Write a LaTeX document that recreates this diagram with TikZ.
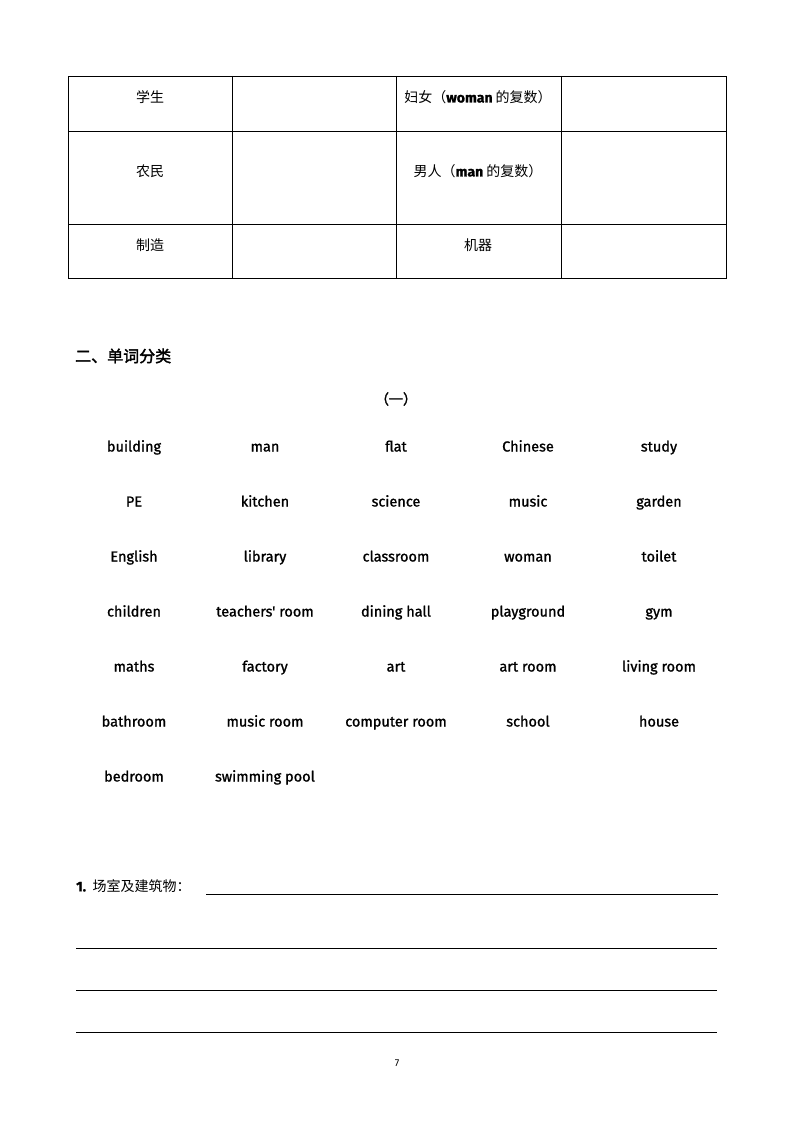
\documentclass[tikz,border=0pt]{standalone}
\usepackage{fontspec}
\setmainfont{Fira Sans}
\newfontfamily\cjk{Noto Sans CJK SC}
\newfontfamily\cjkb{Noto Sans CJK SC}[FakeBold=2]
\newfontfamily\wordfont{Fira Sans}[FakeBold=1.2]
\begin{document}
\begin{tikzpicture}[x=1pt,y=-1pt,
  cell/.style={font=\cjk\fontsize{14}{16}\selectfont, inner sep=0pt, text height=12pt, text depth=1pt},
  word/.style={font=\wordfont\fontsize{14.5}{16}\selectfont, inner sep=0pt, text height=12.5pt, text depth=1.5pt},
  grid/.style={line width=0.9pt},
  rule/.style={line width=0.8pt}]
\useasboundingbox (0,0) rectangle (794,1123);
% table
\draw[grid] (68,76) rectangle (726,278);
\draw[grid] (68,131) -- (726,131);
\draw[grid] (68,224) -- (726,224);
\draw[grid] (232,76) -- (232,278);
\draw[grid] (396,76) -- (396,278);
\draw[grid] (561,76) -- (561,278);
\node[cell] (c11) at (150,97) {学生};
\node[cell] (c13) at (478,97) {妇女（{\wordfont\bfseries woman} 的复数）};
\node[cell] (c21) at (150,171) {农民};
\node[cell] (c23) at (478,171) {男人（{\wordfont\bfseries man} 的复数）};
\node[cell] (c31) at (150,245) {制造};
\node[cell] (c33) at (478,245) {机器};
% heading
\node[anchor=west, inner sep=0pt, font=\cjkb\fontsize{16}{18}\selectfont] (h) at (75,356) {二、单词分类};
\node[inner sep=0pt, font=\cjkb\fontsize{14}{16}\selectfont] (sub) at (396,399) {（一）};
% words
\node[word] (w11) at (134,446) {building};
\node[word] (w12) at (265,446) {man};
\node[word] (w13) at (396,446) {flat};
\node[word] (w14) at (528,446) {Chinese};
\node[word] (w15) at (659,446) {study};
\node[word] (w21) at (134,501) {PE};
\node[word] (w22) at (265,501) {kitchen};
\node[word] (w23) at (396,501) {science};
\node[word] (w24) at (528,501) {music};
\node[word] (w25) at (659,501) {garden};
\node[word] (w31) at (134,556) {English};
\node[word] (w32) at (265,556) {library};
\node[word] (w33) at (396,556) {classroom};
\node[word] (w34) at (528,556) {woman};
\node[word] (w35) at (659,556) {toilet};
\node[word] (w41) at (134,611) {children};
\node[word] (w42) at (265,611) {teachers' room};
\node[word] (w43) at (396,611) {dining hall};
\node[word] (w44) at (528,611) {playground};
\node[word] (w45) at (659,611) {gym};
\node[word] (w51) at (134,666) {maths};
\node[word] (w52) at (265,666) {factory};
\node[word] (w53) at (396,666) {art};
\node[word] (w54) at (528,666) {art room};
\node[word] (w55) at (659,666) {living room};
\node[word] (w61) at (134,721) {bathroom};
\node[word] (w62) at (265,721) {music room};
\node[word] (w63) at (396,721) {computer room};
\node[word] (w64) at (528,721) {school};
\node[word] (w65) at (659,721) {house};
\node[word] (w71) at (134,776) {bedroom};
\node[word] (w72) at (265,776) {swimming pool};
% answer lines
\node[anchor=west, inner sep=0pt, font=\cjk\fontsize{14}{16}\selectfont] (q1) at (76,886) {{\wordfont\bfseries 1.}\, 场室及建筑物：};
\coordinate (l0a) at (206,894);
\coordinate (l0b) at (718,894);
\draw[rule] (l0a) -- (l0b);
\coordinate (l1a) at (76,948); \coordinate (l1b) at (717,948);
\coordinate (l2a) at (76,990); \coordinate (l2b) at (717,990);
\coordinate (l3a) at (76,1032); \coordinate (l3b) at (717,1032);
\draw[rule] (l1a) -- (l1b);
\draw[rule] (l2a) -- (l2b);
\draw[rule] (l3a) -- (l3b);
\node[inner sep=0pt, font=\fontsize{10}{12}\selectfont] (pg) at (397,1063) {7};
\end{tikzpicture}
\end{document}
